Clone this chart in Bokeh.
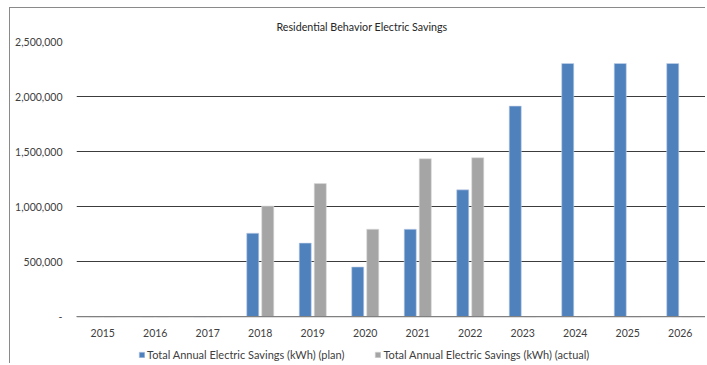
from bokeh.plotting import figure
from bokeh.models import ColumnDataSource, Legend, LegendItem, NumeralTickFormatter, Span
from bokeh.core.properties import value
from bokeh.transform import dodge
from bokeh.embed import file_html
from bokeh.resources import INLINE

years = ["2015", "2016", "2017", "2018", "2019", "2020", "2021", "2022", "2023", "2024", "2025", "2026"]
plan = [0, 0, 0, 758000, 668000, 451000, 794000, 1152000, 1913000, 2300000, 2300000, 2300000]
actual = [0, 0, 0, 1005000, 1209000, 794000, 1435000, 1444000, 0, 0, 0, 0]
yticks = [0, 500000, 1000000, 1500000, 2000000, 2500000]
title_text = "Residential Behavior Electric Savings"
plan_label = "Total Annual Electric Savings (kWh) (plan)"
actual_label = "Total Annual Electric Savings (kWh) (actual)"

FONT = "Lato"
Y_MIN = -435000          # frame extends below zero to hold the category labels and legend
LABEL_Y = -152000        # vertical position of the category labels (below the baseline)

src = ColumnDataSource(dict(year=years, plan=plan, actual=actual))
lab = ColumnDataSource(dict(year=years, y=[LABEL_Y] * len(years)))

p = figure(x_range=years, y_range=(Y_MIN, 2500000), width=696, height=356,
           output_backend="svg", toolbar_location=None,
           min_border_left=66, min_border_right=0, min_border_top=32, min_border_bottom=0)
p.margin = (7, 0, 0, 9)
p.styles = {"border-left": "1px solid #8a8a8a", "border-top": "1px solid #8a8a8a"}
p.outline_line_color = None
p.background_fill_color = "white"
p.xaxis.visible = False

p.xgrid.grid_line_color = None
p.ygrid.grid_line_color = "#3c3c3c"
p.ygrid.grid_line_width = 1

base = Span(location=0, dimension="width", line_color="#808080", line_width=1.3)
p.add_layout(base)

r1 = p.vbar(x=dodge("year", -0.143, range=p.x_range), top="plan", width=0.23, source=src,
            fill_color="#4F81BD", line_color="#c6d4ea", line_width=0.6)
r2 = p.vbar(x=dodge("year", 0.143, range=p.x_range), top="actual", width=0.23, source=src,
            fill_color="#A5A5A5", line_color="#dcdcdc", line_width=0.6)

p.text(x="year", y="y", text="year", source=lab, text_align="center", text_baseline="middle",
       text_font=value(FONT), text_font_size="10.5px", text_color="#404040")

p.title.text = title_text
p.title.align = "left"
p.title.offset = 200
p.title.text_font = FONT
p.title.text_font_size = "10.7px"
p.title.text_font_style = "normal"
p.title.text_color = "#262626"
p.title.standoff = 18

p.yaxis.ticker = yticks
p.yaxis.formatter = NumeralTickFormatter(format="0,0")
p.yaxis.major_label_overrides = {0: "-"}
p.yaxis.axis_line_color = None
p.yaxis.major_tick_line_color = None
p.yaxis.minor_tick_line_color = None
p.yaxis.major_label_standoff = 8
p.yaxis.major_label_text_font = FONT
p.yaxis.major_label_text_font_size = "10.5px"
p.yaxis.major_label_text_color = "#404040"

legend = Legend(items=[LegendItem(label=plan_label, renderers=[r1]),
                       LegendItem(label=actual_label, renderers=[r2])],
                orientation="horizontal", location=(62, 3),
                label_text_font=FONT, label_text_font_size="11px", label_text_color="#404040",
                glyph_width=7, glyph_height=7, label_standoff=2, spacing=30,
                border_line_color=None, background_fill_alpha=0, padding=2, margin=0)
p.add_layout(legend, "center")

open("out.html", "w").write(file_html(p, INLINE))
